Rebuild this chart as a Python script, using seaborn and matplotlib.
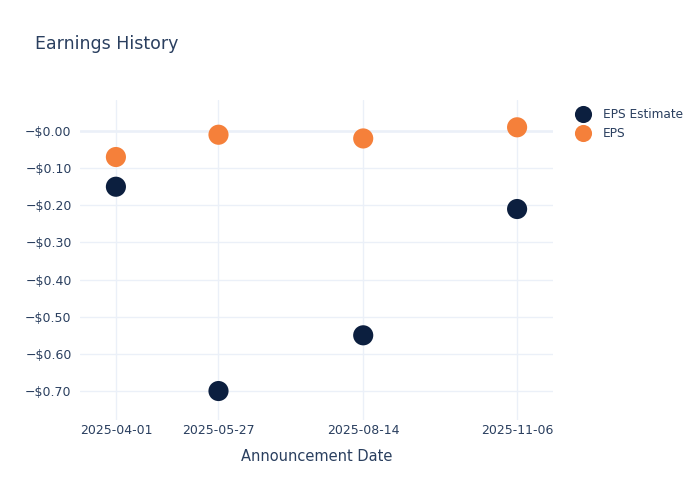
import matplotlib
matplotlib.use("Agg")
import matplotlib.pyplot as plt
import matplotlib.dates as mdates
from matplotlib.ticker import FuncFormatter
import seaborn as sns
import pandas as pd
import numpy as np

dates = ["2025-04-01", "2025-05-27", "2025-08-14", "2025-11-06"]
eps_estimate = [-0.15, -0.70, -0.55, -0.21]
eps_actual = [-0.07, -0.01, -0.02, 0.01]
series_names = ["EPS Estimate", "EPS"]
colors = {"EPS Estimate": "#0c1f3f", "EPS": "#f5803a"}
y_ticks = [-0.7, -0.6, -0.5, -0.4, -0.3, -0.2, -0.1, 0.0]

df = pd.DataFrame({
    "date": pd.to_datetime(dates * 2),
    "value": eps_estimate + eps_actual,
    "series": [series_names[0]] * 4 + [series_names[1]] * 4,
})

sns.set_theme(style="white")
plt.rcParams["font.family"] = ["DejaVu Sans"]
text_color = "#2a3f5f"
grid_color = "#ebf0f8"

fig, ax = plt.subplots(figsize=(7, 5), dpi=100)
fig.subplots_adjust(left=80/700, right=553/700, top=1-100/500, bottom=80/500)

d = pd.to_datetime(dates)
ax.set_xlim(d[0] - pd.Timedelta(days=19.6), d[-1] + pd.Timedelta(days=19.6))
ax.set_ylim(-0.778, 0.0835)

ax.set_xticks(d)
ax.set_yticks(y_ticks)
ax.xaxis.set_major_formatter(mdates.DateFormatter("%Y-%m-%d"))
ax.yaxis.set_major_formatter(FuncFormatter(lambda v, p: ("\u2212$" if v <= 0.0001 else "$") + f"{abs(v):.2f}"))

ax.grid(True, color=grid_color, linewidth=1)
ax.axhline(0, color=grid_color, linewidth=1.8, zorder=1)
ax.set_axisbelow(True)
for s in ax.spines.values():
    s.set_visible(False)

sns.scatterplot(data=df, x="date", y="value", hue="series", palette=colors,
                s=210, linewidth=0, ax=ax, zorder=3, legend=True)

ax.tick_params(axis="x", length=0, labelsize=9, colors=text_color, pad=3)
ax.tick_params(axis="y", length=0, labelsize=9, colors=text_color, pad=6)
ax.set_xlabel("Announcement Date", fontsize=10.5, color=text_color, labelpad=8.5)
ax.set_ylabel("")

handles, labels = ax.get_legend_handles_labels()
leg = ax.legend(handles, labels, loc="upper left", bbox_to_anchor=(566/700, 1-103/500),
                bbox_transform=fig.transFigure, frameon=False, fontsize=8.7,
                handletextpad=0.65, labelspacing=0.5, markerscale=0.85, borderaxespad=0)
for t in leg.get_texts():
    t.set_color(text_color)

fig.text(35/700, 1-44/500, "Earnings History", fontsize=12.5, color=text_color, va="center", ha="left")

fig.savefig("out.png", dpi=100)
